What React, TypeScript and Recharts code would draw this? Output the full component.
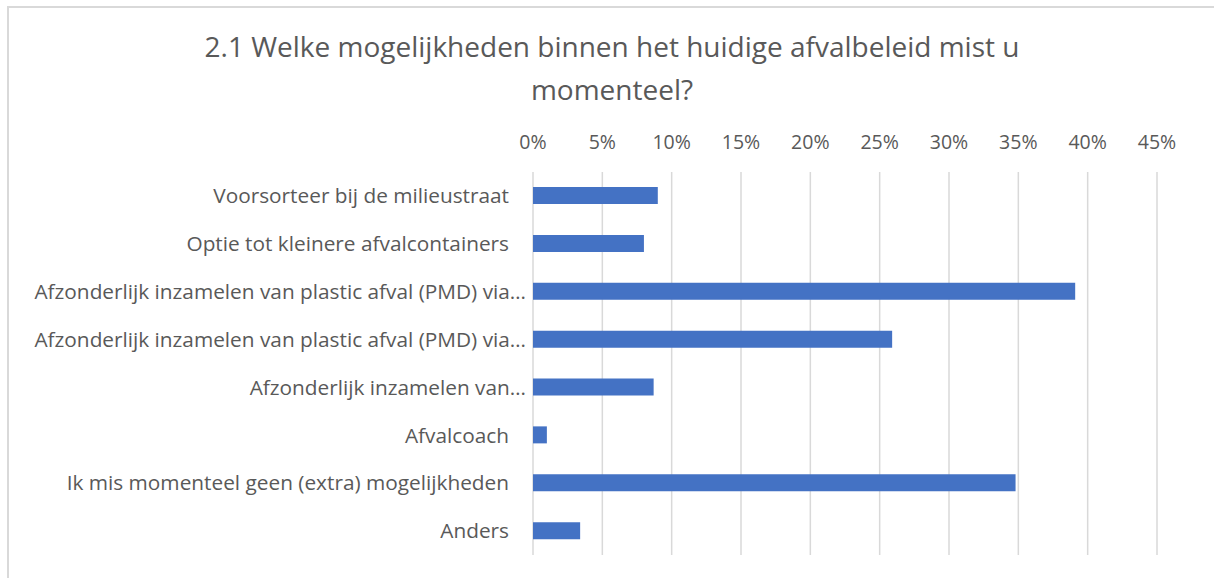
import React from 'react';
import { BarChart, Bar, XAxis, YAxis, CartesianGrid } from 'recharts';

const categories = [
  'Voorsorteer bij de milieustraat',
  'Optie tot kleinere afvalcontainers',
  'Afzonderlijk inzamelen van plastic afval (PMD) via…',
  'Afzonderlijk inzamelen van plastic afval (PMD) via…',
  'Afzonderlijk inzamelen van…',
  'Afvalcoach',
  'Ik mis momenteel geen (extra) mogelijkheden',
  'Anders',
];
const values = [0.09, 0.08, 0.391, 0.259, 0.087, 0.01, 0.348, 0.034];
const xTicks = [0, 0.05, 0.1, 0.15, 0.2, 0.25, 0.3, 0.35, 0.4, 0.45];
const titleLines = ['2.1 Welke mogelijkheden binnen het huidige afvalbeleid mist u', 'momenteel?'];

const data = categories.map((c, i) => ({ key: 'c' + i, name: c, value: values[i] }));

const FONT = '"Open Sans", Lato, sans-serif';
const TEXT = '#595959';

const CatTick = (props: any) => {
  const { x, y, payload } = props;
  const label = categories[payload.index] ?? payload.value;
  const truncated = label.endsWith('…');
  return (
    <text
      x={x - (truncated ? -1 : 16)}
      y={y}
      dy="0.35em"
      textAnchor="end"
      fill={TEXT}
      fontSize={20.8}
      fontFamily={FONT}
    >
      {label}
    </text>
  );
};

export default function App() {
  return (
    <div style={{ position: 'absolute', left: 0, top: 0, width: 1214, height: 578, background: '#fff', overflow: 'hidden' }}>
      <div
        style={{
          position: 'absolute',
          left: 7,
          top: 6,
          width: 1300,
          height: 700,
          borderLeft: '2px solid #d9d9d9',
          borderTop: '2px solid #d9d9d9',
        }}
      />
      <div style={{ position: 'absolute', left: 0, top: 0 }}>
        <BarChart
          width={1214}
          height={578}
          data={data}
          layout="vertical"
          margin={{ top: 125, right: 57, bottom: 23, left: 0 }}
        >
          <text x={612} y={57} textAnchor="middle" fill={TEXT} fontSize={28} fontFamily={FONT}>
            {titleLines[0]}
          </text>
          <text x={612} y={100} textAnchor="middle" fill={TEXT} fontSize={28} fontFamily={FONT}>
            {titleLines[1]}
          </text>
          <CartesianGrid horizontal={false} vertical={true} stroke="#d9d9d9" strokeWidth={1.5} />
          <XAxis
            type="number"
            orientation="top"
            domain={[0, 0.45]}
            ticks={xTicks}
            tickFormatter={(v: number) => `${Math.round(v * 100)}%`}
            axisLine={false}
            tickLine={false}
            tickSize={0}
            tickMargin={23}
            height={47}
            interval={0}
            tick={{ fill: TEXT, fontSize: 19.5, fontFamily: FONT }}
          />
          <YAxis
            type="category"
            dataKey="key"
            width={533}
            axisLine={false}
            tickLine={false}
            interval={0}
            tick={<CatTick />}
          />
          <Bar dataKey="value" fill="#4472C4" barSize={17} isAnimationActive={false} />
        </BarChart>
      </div>
    </div>
  );
}
